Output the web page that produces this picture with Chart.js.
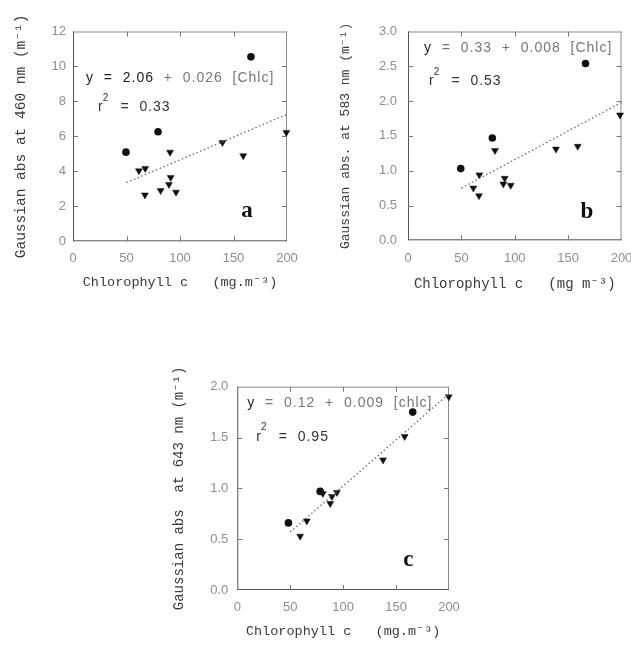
<!DOCTYPE html>
<html>
<head>
<meta charset="utf-8">
<script src="https://cdn.jsdelivr.net/npm/chart.js@4/dist/chart.umd.min.js"></script>
<style>
html,body{margin:0;padding:0;background:#fff;overflow:hidden;width:631px;height:645px;}
canvas{position:absolute;}
</style>
</head>
<body>
<canvas id="ca" width="312" height="300" style="left:0px;top:0px"></canvas>
<canvas id="cb" width="317" height="300" style="left:330px;top:0px"></canvas>
<canvas id="cc" width="314" height="315" style="left:160px;top:330px"></canvas>
<script>
// ---------- data ----------
const xTickValues = [0, 50, 100, 150, 200];

// panel a : Gaussian abs at 460 nm
const aYTicks = [0, 2, 4, 6, 8, 10, 12];
const aCircleX = [49.5, 79.5, 166.3];
const aCircleY = [5.10, 6.27, 10.55];
const aTriangleX = [61.6, 67.5, 67.2, 81.9, 90.7, 91.3, 89.7, 96.3, 139.7, 159.1, 199.4];
const aTriangleY = [4.03, 4.16, 2.65, 2.90, 5.10, 3.65, 3.25, 2.81, 5.65, 4.89, 6.23];
const aFitX = [50, 200];
const aFitY = [3.36, 7.26];

// panel b : Gaussian abs at 583 nm
const bYTicks = [0, 0.5, 1.0, 1.5, 2.0, 2.5, 3.0];
const bCircleX = [49.4, 79.0, 166.3];
const bCircleY = [1.03, 1.47, 2.54];
const bTriangleX = [61.2, 66.8, 66.5, 81.5, 90.6, 89.3, 96.2, 138.6, 159.0, 198.6];
const bTriangleY = [0.75, 0.94, 0.64, 1.29, 0.89, 0.81, 0.79, 1.31, 1.35, 1.80];
const bFitX = [50, 200];
const bFitY = [0.75, 1.98];

// panel c : Gaussian abs at 643 nm
const cYTicks = [0, 0.5, 1.0, 1.5, 2.0];
const cCircleX = [48.3, 78.3, 165.7];
const cCircleY = [0.66, 0.97, 1.75];
const cTriangleX = [59.4, 65.7, 80.9, 87.8, 89.4, 94.1, 137.7, 158.1, 199.8];
const cTriangleY = [0.53, 0.68, 0.95, 0.85, 0.92, 0.96, 1.28, 1.51, 1.90];
const cFitX = [50, 200];
const cFitY = [0.57, 1.93];

// ---------- helpers ----------
function pts(xs, ys) { return xs.map((x, i) => ({x: x, y: ys[i]})); }

const framePlugin = {
  id: 'frameAndNotes',
  beforeDatasetsDraw(chart) {
    const {ctx, chartArea: a, scales: {x, y}} = chart;
    ctx.save();
    ctx.lineWidth = 1;
    ctx.strokeStyle = '#8a8a8a';
    ctx.beginPath();
    ctx.moveTo(a.left, a.top + 0.5); ctx.lineTo(a.right, a.top + 0.5);
    ctx.moveTo(a.right - 0.5, a.top); ctx.lineTo(a.right - 0.5, a.bottom);
    ctx.stroke();
    ctx.strokeStyle = '#555';
    ctx.beginPath();
    ctx.moveTo(a.left + 0.5, a.top); ctx.lineTo(a.left + 0.5, a.bottom);
    ctx.moveTo(a.left, a.bottom - 0.5); ctx.lineTo(a.right, a.bottom - 0.5);
    ctx.stroke();
    const tl = 5;
    ctx.strokeStyle = '#777';
    ctx.beginPath();
    x.ticks.forEach(t => {
      if (t.value <= x.min || t.value >= x.max) return;
      const px = Math.round(x.getPixelForValue(t.value)) + 0.5;
      ctx.moveTo(px, a.bottom); ctx.lineTo(px, a.bottom - tl);
      ctx.moveTo(px, a.top); ctx.lineTo(px, a.top + tl);
    });
    y.ticks.forEach(t => {
      if (t.value <= y.min || t.value >= y.max) return;
      const py = Math.round(y.getPixelForValue(t.value)) + 0.5;
      ctx.moveTo(a.left, py); ctx.lineTo(a.left + tl, py);
      ctx.moveTo(a.right, py); ctx.lineTo(a.right - tl, py);
    });
    ctx.stroke();
    ctx.restore();
  },
  afterDatasetsDraw(chart) {
    const n = chart.options.plugins.frameAndNotes;
    const {ctx, chartArea: a} = chart;
    ctx.save();
    ctx.textBaseline = 'middle';
    ctx.textAlign = 'left';
    ctx.font = '14px "Liberation Sans", Arial, sans-serif';
    ctx.letterSpacing = '1px';
    let ex = a.left + n.eqPos[0], ey = a.top + n.eqPos[1];
    ctx.fillStyle = '#222';
    ctx.fillText(n.eqDark, ex, ey);
    ex += ctx.measureText(n.eqDark).width;
    ctx.fillStyle = '#777';
    ctx.fillText(n.eqLight, ex, ey);
    let rx = a.left + n.r2Pos[0], ry = a.top + n.r2Pos[1];
    ctx.fillStyle = '#333';
    ctx.fillText('r', rx, ry);
    const rw = ctx.measureText('r').width;
    ctx.font = '10px "Liberation Sans", Arial, sans-serif';
    ctx.fillText('2', rx + rw - 1, ry - 9);
    ctx.font = '14px "Liberation Sans", Arial, sans-serif';
    ctx.fillText(n.r2Text, rx + rw + 7, ry);
    ctx.letterSpacing = '0px';
    ctx.font = 'bold 23px "Liberation Serif", "Times New Roman", serif';
    ctx.textAlign = 'center';
    ctx.fillStyle = '#111';
    ctx.fillText(n.letter, a.left + n.letterPos[0], a.top + n.letterPos[1]);
    ctx.restore();
  }
};

function makeChart(id, cfg) {
  const tickFont = {family: '"Liberation Sans", Arial, sans-serif', size: 13};
  return new Chart(document.getElementById(id), {
    type: 'scatter',
    data: {
      datasets: [
        {
          data: pts(cfg.fitX, cfg.fitY),
          showLine: true, pointRadius: 0, borderColor: '#6a6a6a',
          borderWidth: 1.3, borderDash: [1.5, 2.5], fill: false, clip: false
        },
        {
          data: pts(cfg.cx, cfg.cy), pointStyle: 'circle', pointRadius: 3.8,
          backgroundColor: '#111', borderColor: '#111', borderWidth: 0, clip: false
        },
        {
          data: pts(cfg.tx, cfg.ty), pointStyle: 'triangle', rotation: 180,
          pointRadius: 4, backgroundColor: '#111', borderColor: '#111', borderWidth: 0.5, clip: false
        }
      ]
    },
    options: {
      responsive: false,
      animation: false,
      events: [],
      layout: {padding: {top: cfg.padTop, right: cfg.padRight, left: 0, bottom: 0}},
      plugins: {
        legend: {display: false},
        tooltip: {enabled: false},
        frameAndNotes: cfg.notes
      },
      scales: {
        x: {
          type: 'linear', min: 0, max: 200,
          afterBuildTicks: s => { s.ticks = xTickValues.map(v => ({value: v})); },
          afterFit: s => { s.height = cfg.xH; },
          grid: {display: false, drawTicks: false},
          border: {display: false},
          ticks: {color: '#8e8e8e', font: tickFont, padding: cfg.xTickPad, maxRotation: 0, autoSkip: false},
          title: {display: true, text: cfg.xTitle, color: '#3a3a3a',
            font: {family: '"Liberation Mono", "Courier New", monospace', size: cfg.xTitleSize},
            padding: {top: 0, bottom: cfg.xTitlePad}}
        },
        y: {
          type: 'linear', min: cfg.yTicks[0], max: cfg.yTicks[cfg.yTicks.length - 1],
          afterBuildTicks: s => { s.ticks = cfg.yTicks.map(v => ({value: v})); },
          afterFit: s => { s.width = cfg.yW; },
          grid: {display: false, drawTicks: false},
          border: {display: false},
          ticks: {color: '#8e8e8e', font: tickFont, padding: cfg.yTickPad, autoSkip: false,
            callback: v => cfg.yDec ? Number(v).toFixed(1) : String(v)},
          title: {display: true, text: cfg.yTitle, color: '#3a3a3a',
            font: {family: '"Liberation Mono", "Courier New", monospace', size: cfg.yTitleSize},
            padding: {top: cfg.yTitlePad, bottom: 0}}
        }
      }
    },
    plugins: [framePlugin]
  });
}

makeChart('ca', {
  cx: aCircleX, cy: aCircleY, tx: aTriangleX, ty: aTriangleY, fitX: aFitX, fitY: aFitY,
  yTicks: aYTicks, yDec: false,
  padTop: 31.5, padRight: 25, yW: 73, xH: 58.7,
  xTickPad: 9, yTickPad: 7, xTitlePad: 9, yTitlePad: 12,
  xTitle: 'Chlorophyll c   (mg.m⁻³)', xTitleSize: 13.5,
  yTitle: 'Gaussian abs at 460 nm (m⁻¹)', yTitleSize: 14.5,
  notes: {eqDark: 'y  =  2.06', eqLight: '  +  0.026  [Chlc]', r2Text: '  =  0.33',
    eqPos: [13, 47], r2Pos: [25, 76], letter: 'a', letterPos: [174, 180]}
});

makeChart('cb', {
  cx: bCircleX, cy: bCircleY, tx: bTriangleX, ty: bTriangleY, fitX: bFitX, fitY: bFitY,
  yTicks: bYTicks, yDec: true,
  padTop: 31.5, padRight: 25.5, yW: 78, xH: 59.7,
  xTickPad: 10, yTickPad: 11, xTitlePad: 7, yTitlePad: 8,
  xTitle: 'Chlorophyll c   (mg m⁻³)', xTitleSize: 14,
  yTitle: 'Gaussian abs. at 583 nm (m⁻¹)', yTitleSize: 13,
  notes: {eqDark: 'y', eqLight: '  =  0.33  +  0.008  [Chlc]', r2Text: '  =  0.53',
    eqPos: [16, 17], r2Pos: [21, 50], letter: 'b', letterPos: [179, 181]}
});

makeChart('cc', {
  cx: cCircleX, cy: cCircleY, tx: cTriangleX, ty: cTriangleY, fitX: cFitX, fitY: cFitY,
  yTicks: cYTicks, yDec: true,
  padTop: 56.7, padRight: 25, yW: 77.3, xH: 55,
  xTickPad: 10, yTickPad: 9, xTitlePad: 5.5, yTitlePad: 11,
  xTitle: 'Chlorophyll c   (mg.m⁻³)', xTitleSize: 13.5,
  yTitle: 'Gaussian abs  at 643 nm (m⁻¹)', yTitleSize: 14,
  notes: {eqDark: 'y', eqLight: '  =  0.12  +  0.009  [chlc]', r2Text: '  =  0.95',
    eqPos: [10, 16], r2Pos: [19, 50], letter: 'c', letterPos: [171, 173]}
});
</script>
</body>
</html>
